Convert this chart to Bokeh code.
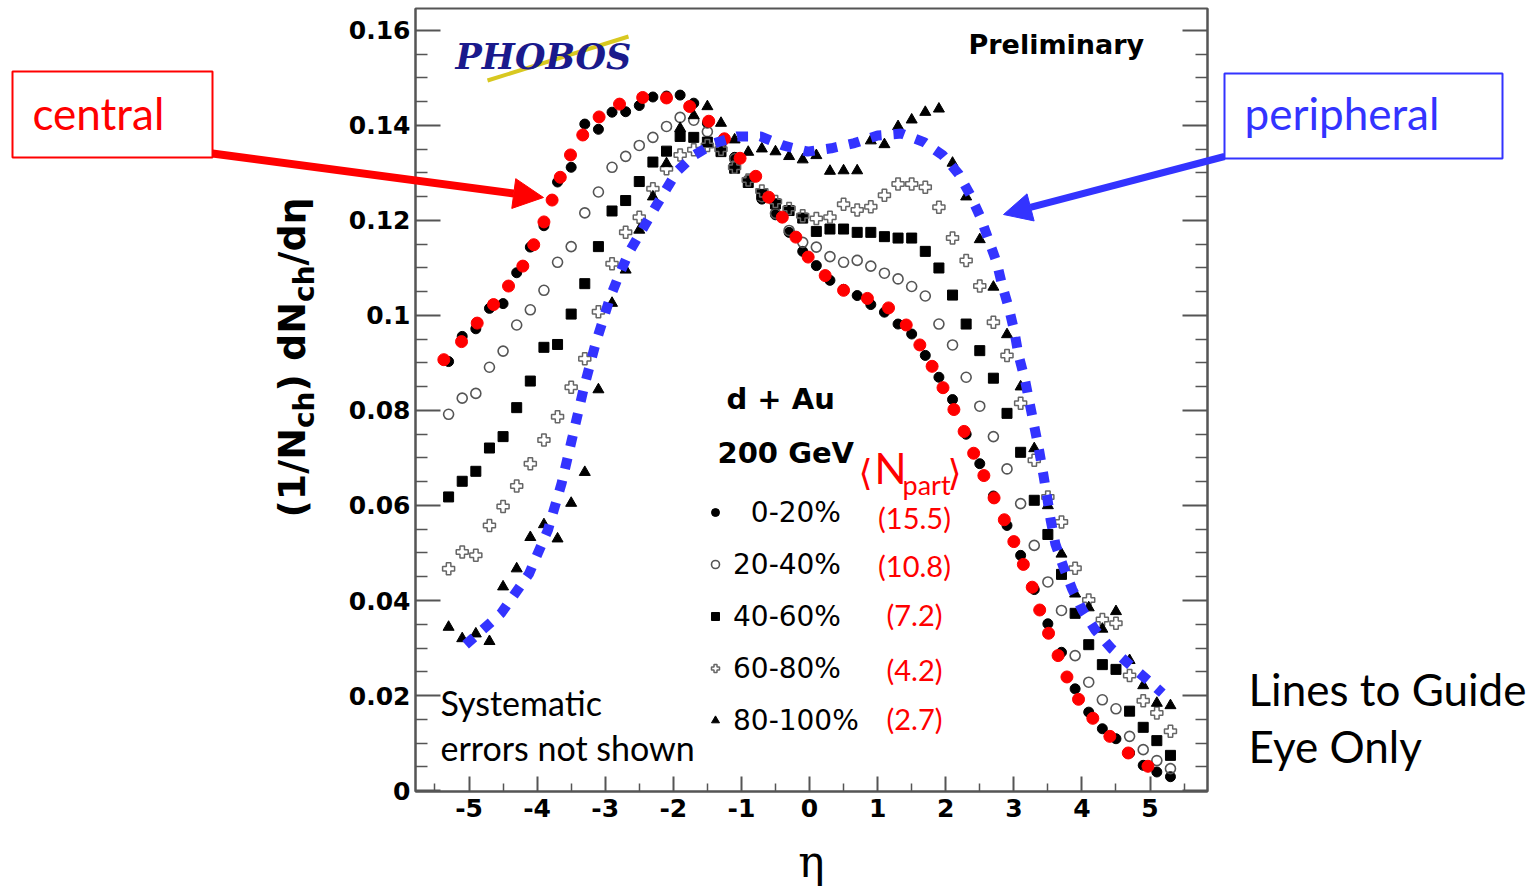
import numpy as np
from bokeh.plotting import figure
from bokeh.models import (Range1d, LinearAxis, FixedTicker, CustomJSTickFormatter,
                          Label, Arrow, NormalHead, PolyAnnotation, BoxAnnotation,
                          Legend, LegendItem)
from bokeh.embed import file_html
from bokeh.resources import INLINE

# ---------------- data ----------------
ETA = [-5.3, -5.1, -4.9, -4.7, -4.5, -4.3, -4.1, -3.9, -3.7, -3.5, -3.3, -3.1, -2.9, -2.7,
       -2.5, -2.3, -2.1, -1.9, -1.7, -1.5, -1.3, -1.1, -0.9, -0.7, -0.5, -0.3, -0.1,
       0.1, 0.3, 0.5, 0.7, 0.9, 1.1, 1.3, 1.5, 1.7, 1.9, 2.1, 2.3, 2.5, 2.7, 2.9, 3.1,
       3.3, 3.5, 3.7, 3.9, 4.1, 4.3, 4.5, 4.7, 4.9, 5.1, 5.3]

C0_20 = [0.0903, 0.0956, 0.0972, 0.1015, 0.1025, 0.1090, 0.1144, 0.1189, 0.1281, 0.1312,
         0.1403, 0.1392, 0.1428, 0.1429, 0.1442, 0.1460, 0.1462, 0.1464, 0.1447, 0.1405,
         0.1360, 0.1333, 0.1284, 0.1245, 0.1212, 0.1175, 0.1135, 0.1105, 0.1074, 0.1055,
         0.1042, 0.1023, 0.1007, 0.0982, 0.0961, 0.0916, 0.0870, 0.0823, 0.0750, 0.0688,
         0.0620, 0.0558, 0.0495, 0.0423, 0.0351, 0.0291, 0.0214, 0.0165, 0.0130, 0.0109,
         0.0079, 0.0053, 0.0039, 0.0029]

C20_40 = [0.0792, 0.0826, 0.0836, 0.0891, 0.0925, 0.0980, 0.1012, 0.1053, 0.1112, 0.1145,
          0.1216, 0.1260, 0.1312, 0.1335, 0.1358, 0.1375, 0.1398, 0.1417, 0.1411, 0.1387,
          0.1365, 0.1330, 0.1285, 0.1250, 0.1215, 0.1179, 0.1154, 0.1144, 0.1124, 0.1112,
          0.1116, 0.1104, 0.1089, 0.1077, 0.1061, 0.1041, 0.0982, 0.0938, 0.0870, 0.0809,
          0.0745, 0.0677, 0.0604, 0.0516, 0.0439, 0.0379, 0.0284, 0.0228, 0.0191, 0.0172,
          0.0114, 0.0086, 0.0063, 0.0046]

C40_60 = [0.0618, 0.0651, 0.0672, 0.0721, 0.0745, 0.0806, 0.0862, 0.0933, 0.0939, 0.1003,
          0.1067, 0.1145, 0.1220, 0.1242, 0.1282, 0.1323, 0.1346, 0.1377, 0.1375, 0.1365,
          0.1345, 0.1310, 0.1280, 0.1255, 0.1235, 0.1221, 0.1205, 0.1177, 0.1182, 0.1182,
          0.1175, 0.1175, 0.1166, 0.1163, 0.1163, 0.1135, 0.1100, 0.1043, 0.0982, 0.0926,
          0.0868, 0.0794, 0.0712, 0.0611, 0.0539, 0.0455, 0.0373, 0.0307, 0.0265, 0.0255,
          0.0167, 0.0133, 0.0105, 0.0074]

C60_80 = [0.0467, 0.0502, 0.0495, 0.0558, 0.0598, 0.0641, 0.0688, 0.0738, 0.0787, 0.0849,
          0.0909, 0.1008, 0.1109, 0.1175, 0.1207, 0.1267, 0.1309, 0.1338, 0.1349, 0.1358,
          0.1350, 0.1312, 0.1285, 0.1262, 0.1240, 0.1225, 0.1210, 0.1204, 0.1207, 0.1234,
          0.1222, 0.1229, 0.1253, 0.1277, 0.1277, 0.1270, 0.1228, 0.1163, 0.1116, 0.1062,
          0.0986, 0.0916, 0.0815, 0.0695, 0.0618, 0.0565, 0.0468, 0.0401, 0.0360, 0.0352,
          0.0242, 0.0189, 0.0163, 0.0125]

C80_100 = [0.0344, 0.0320, 0.0330, 0.0314, 0.0429, 0.0467, 0.0533, 0.0560, 0.0530, 0.0605,
           0.0670, 0.0844, 0.1026, 0.1096, 0.1180, 0.1250, 0.1320, 0.1394, 0.1421, 0.1440,
           0.1405, 0.1370, 0.1344, 0.1351, 0.1345, 0.1335, 0.1328, 0.1337, 0.1304, 0.1305,
           0.1305, 0.1368, 0.1360, 0.1398, 0.1412, 0.1428, 0.1435, 0.1321, 0.1250, 0.1160,
           0.1060, 0.0960, 0.0850, 0.0720, 0.0600, 0.0498, 0.0414, 0.0385, 0.0340, 0.0377,
           0.0274, 0.0221, 0.0184, 0.0179]

LABELS = ["0-20%", "20-40%", "40-60%", "60-80%", "80-100%"]
NPART = ["(15.5)", "(10.8)", "(7.2)", "(4.2)", "(2.7)"]

# guide for central (red dots)
RED_ETA = [-5.37, -5.11, -4.88, -4.64, -4.42, -4.21, -4.05, -3.90, -3.78, -3.66, -3.51, -3.33,
           -3.09, -2.79, -2.45, -2.10, -1.76, -1.48, -1.25, -1.02, -0.79, -0.60, -0.40, -0.20,
           -0.02, 0.23, 0.50, 0.85, 1.16, 1.42, 1.62, 1.80, 1.96, 2.12, 2.27, 2.41, 2.56, 2.71,
           2.86, 3.00, 3.14, 3.27, 3.38, 3.51, 3.65, 3.78, 3.95, 4.16, 4.41, 4.68, 4.97]
RED_VAL = [0.0907, 0.0945, 0.0984, 0.1023, 0.1062, 0.1104, 0.1149, 0.1197, 0.1243, 0.1291,
           0.1338, 0.1380, 0.1418, 0.1445, 0.1459, 0.1458, 0.1440, 0.1409, 0.1372, 0.1331,
           0.1293, 0.1249, 0.1207, 0.1165, 0.1123, 0.1084, 0.1053, 0.1036, 0.1016, 0.0980,
           0.0938, 0.0893, 0.0848, 0.0802, 0.0756, 0.0710, 0.0663, 0.0616, 0.0570, 0.0524,
           0.0476, 0.0428, 0.0380, 0.0331, 0.0284, 0.0239, 0.0192, 0.0152, 0.0114, 0.0079,
           0.0051]

# guide for peripheral (blue dotted line)
BLUE_ETA = [-5.05, -4.53, -4.12, -3.84, -3.64, -3.48, -3.32, -3.14, -2.93, -2.80, -2.65, -2.48,
            -2.31, -2.13, -1.94, -1.70, -1.39, -1.06, -0.72, -0.39, -0.03, 0.32, 0.66, 1.00,
            1.35, 1.68, 1.96, 2.19, 2.36, 2.51, 2.63, 2.75, 2.83, 2.93, 3.01, 3.07, 3.16,
            3.23, 3.30, 3.37, 3.43, 3.49, 3.54, 3.61, 3.73, 3.86, 4.01, 4.20, 4.44, 4.70,
            4.97, 5.18]
BLUE_VAL = [0.0307, 0.0373, 0.0456, 0.0549, 0.0647, 0.0745, 0.0844, 0.0942, 0.1037, 0.1084,
            0.1133, 0.1175, 0.1217, 0.1260, 0.1304, 0.1337, 0.1363, 0.1377, 0.1377, 0.1358,
            0.1345, 0.1352, 0.1363, 0.1379, 0.1383, 0.1365, 0.1337, 0.1298, 0.1254, 0.1207,
            0.1159, 0.1111, 0.1063, 0.1014, 0.0965, 0.0916, 0.0867, 0.0817, 0.0767, 0.0717,
            0.0668, 0.0617, 0.0570, 0.0519, 0.0470, 0.0423, 0.0379, 0.0337, 0.0298, 0.0265,
            0.0232, 0.0205]

X_TICKS = [-5, -4, -3, -2, -1, 0, 1, 2, 3, 4, 5]
X_MINOR = [-5.5, -4.5, -3.5, -2.5, -1.5, -0.5, 0.5, 1.5, 2.5, 3.5, 4.5, 5.5]
Y_TICKS = [0, 0.02, 0.04, 0.06, 0.08, 0.10, 0.12, 0.14, 0.16]
Y_MINOR = [0.005, 0.01, 0.015, 0.025, 0.03, 0.035, 0.045, 0.05, 0.055, 0.065, 0.07, 0.075,
           0.085, 0.09, 0.095, 0.105, 0.11, 0.115, 0.125, 0.13, 0.135, 0.145, 0.15, 0.155]

# ---------------- layout ----------------
W, H = 1536, 891
FL, FR, FT, FB = 415, 1207, 8, 791          # inner plot box (pixels)
X0, X1 = -5.786, 5.844                       # data limits of that box
Y0, Y1 = -0.00021, 0.16463


def dx(px):
    return X0 + (px - FL) * (X1 - X0) / (FR - FL)


def dy(py):
    return Y0 + (FB - py) * (Y1 - Y0) / (FB - FT)


p = figure(width=W, height=H, x_range=Range1d(dx(0), dx(W)), y_range=Range1d(dy(H), dy(0)),
           output_backend="svg", toolbar_location=None,
           min_border=0, x_axis_type=None, y_axis_type=None)
p.xgrid.visible = False
p.ygrid.visible = False
p.outline_line_color = None
p.background_fill_color = "white"
p.border_fill_color = "white"

xt = FixedTicker(ticks=X_TICKS, minor_ticks=X_MINOR)
yt = FixedTicker(ticks=Y_TICKS, minor_ticks=Y_MINOR)

ax = LinearAxis(ticker=xt, fixed_location=Y0, bounds=(X0, X1),
                formatter=CustomJSTickFormatter(code="return tick.toFixed(0);"))
ax.major_tick_in = 15
ax.major_tick_out = 0
ax.minor_tick_in = 8
ax.minor_tick_out = 0
ax.major_label_standoff = 7
ax.axis_label = "η"
ax.axis_label_text_font = "DejaVu Serif"
ax.axis_label_text_font_size = "44px"
ax.axis_label_text_font_style = "normal"
ax.axis_label_text_color = "black"
ax.axis_label_standoff = 16

ay = LinearAxis(ticker=yt, fixed_location=X0, bounds=(Y0, Y1),
                formatter=CustomJSTickFormatter(code="""
var s = tick.toFixed(2);
if (s === "0.00") return "0";
if (s.charAt(s.length - 1) === "0") s = s.substring(0, s.length - 1);
return s;
"""))
ay.major_tick_in = 25
ay.major_tick_out = 0
ay.minor_tick_in = 12
ay.minor_tick_out = 0
ay.major_label_standoff = 5

ry = LinearAxis(ticker=yt, fixed_location=X1, bounds=(Y0, Y1),
                formatter=CustomJSTickFormatter(code="return '';"))
ry.major_tick_in = 25
ry.major_tick_out = 0
ry.minor_tick_in = 12
ry.minor_tick_out = 0

for a in [ax, ay, ry]:
    a.axis_line_color = "#555555"
    a.axis_line_width = 2
    a.major_tick_line_color = "#555555"
    a.major_tick_line_width = 2
    a.minor_tick_line_color = "#555555"
    a.minor_tick_line_width = 1.5
    a.major_label_text_font = "DejaVu Sans"
    a.major_label_text_font_style = "bold"
    a.major_label_text_font_size = "25px"
    a.major_label_text_color = "black"

p.add_layout(ax, "below")
p.add_layout(ay, "left")
p.add_layout(ry, "right")

# plot box outline
p.add_layout(BoxAnnotation(left=X0, right=X1, bottom=Y0, top=Y1, fill_alpha=0,
                           line_color="#555555", line_alpha=1.0, line_width=2))

# ---------------- data marks ----------------
r1 = p.scatter(ETA, C0_20, marker="circle", size=10, fill_color="black", line_color="black")
r2 = p.scatter(ETA, C20_40, marker="circle", size=10, fill_color=None, line_color="#555555",
               line_width=1.6)
r3 = p.scatter(ETA, C40_60, marker="square", size=10, fill_color="black", line_color="black")
r4 = p.scatter(ETA, C60_80, marker="plus", size=12, fill_color=None, line_color="#666666",
               line_width=1.5)
r5 = p.scatter(ETA, C80_100, marker="triangle", size=11, fill_color="black", line_color="black")

p.scatter(RED_ETA, RED_VAL, marker="circle", size=12, fill_color="#ff0000", line_color="#ff0000")
p.line(BLUE_ETA, BLUE_VAL, line_color="#3333ff", line_width=10, line_dash="11 12")

legend = Legend(items=[LegendItem(label="\u2007" + LABELS[0], renderers=[r1]),
                       LegendItem(label=LABELS[1], renderers=[r2]),
                       LegendItem(label=LABELS[2], renderers=[r3]),
                       LegendItem(label=LABELS[3], renderers=[r4]),
                       LegendItem(label=LABELS[4], renderers=[r5])],
                location=(705, 153), glyph_width=20, glyph_height=36, label_height=36,
                spacing=16, padding=0, margin=0, label_standoff=8,
                border_line_color=None, background_fill_alpha=0,
                label_text_font="DejaVu Sans", label_text_font_size="28px",
                label_text_color="black")
p.add_layout(legend)


# ---------------- annotations ----------------
def lab(text, px, py, size, color="black", font="Lato", style="normal", align="left",
        baseline="middle", angle=0.0):
    p.add_layout(Label(x=dx(px), y=dy(py), text=text, text_font=font,
                       text_font_size=f"{size}px", text_color=color, text_font_style=style,
                       text_align=align, text_baseline=baseline, angle=angle))


# y-axis title, rotated, with subscripts
yl = [("(1/N", 517, 291, 38), ("ch", 427.5, 304, 28), (") dN", 391, 291, 38),
      ("ch", 301.4, 304, 28), ("/dη", 265, 291, 38)]
for t, py, px, s in yl:
    lab(t, px, py, s, font="DejaVu Sans", style="bold", angle=np.pi / 2)

# logo
p.add_layout(Arrow(x_start=dx(487), y_start=dy(80), x_end=dx(628), y_end=dy(36), end=None,
                   line_color="#d8c820", line_width=4))
lab("PHOBOS", 455, 56, 35, color="#1a1a8c", font="DejaVu Serif", style="bold italic")

lab("Preliminary", 968, 44, 27, font="DejaVu Sans", style="bold")
lab("d + Au", 726, 398, 29, font="DejaVu Sans", style="bold")
lab("200 GeV", 717, 452, 29, font="DejaVu Sans", style="bold")

# <N_part>
lab("⟨", 858, 472, 36, color="#ff0000", font="DejaVu Sans")
lab("N", 874, 467, 42, color="#ff0000")
lab("part", 902, 484, 27, color="#ff0000")
lab("⟩", 947, 472, 36, color="#ff0000", font="DejaVu Sans")
for t, py in zip(NPART, [517, 565, 614, 669, 718]):
    lab(t, 914, py, 29, color="#ff0000", align="center")

lab("Systematic", 440, 702, 34)
lab("errors not shown", 440, 747, 34)

lab("Lines to Guide", 1248, 688, 44)
lab("Eye Only", 1248, 745, 44)

# boxes with arrows
p.add_layout(PolyAnnotation(xs=[dx(12), dx(212), dx(212), dx(12)],
                            ys=[dy(71), dy(71), dy(157), dy(157)],
                            fill_alpha=0, line_color="#ff0000", line_alpha=1.0, line_width=2))
lab("central", 32, 112, 44, color="#ff0000")
p.add_layout(Arrow(x_start=dx(212), y_start=dy(153), x_end=dx(543), y_end=dy(197),
                   line_color="#ff0000", line_width=8,
                   end=NormalHead(size=30, fill_color="#ff0000", line_color="#ff0000")))

p.add_layout(PolyAnnotation(xs=[dx(1224), dx(1502), dx(1502), dx(1224)],
                            ys=[dy(73), dy(73), dy(158), dy(158)],
                            fill_alpha=0, line_color="#3333ff", line_alpha=1.0, line_width=2))
lab("peripheral", 1244, 112, 44, color="#3333ff")
p.add_layout(Arrow(x_start=dx(1224), y_start=dy(156), x_end=dx(1003), y_end=dy(214),
                   line_color="#3333ff", line_width=7,
                   end=NormalHead(size=28, fill_color="#3333ff", line_color="#3333ff")))

open("out.html", "w").write(file_html(p, INLINE))
